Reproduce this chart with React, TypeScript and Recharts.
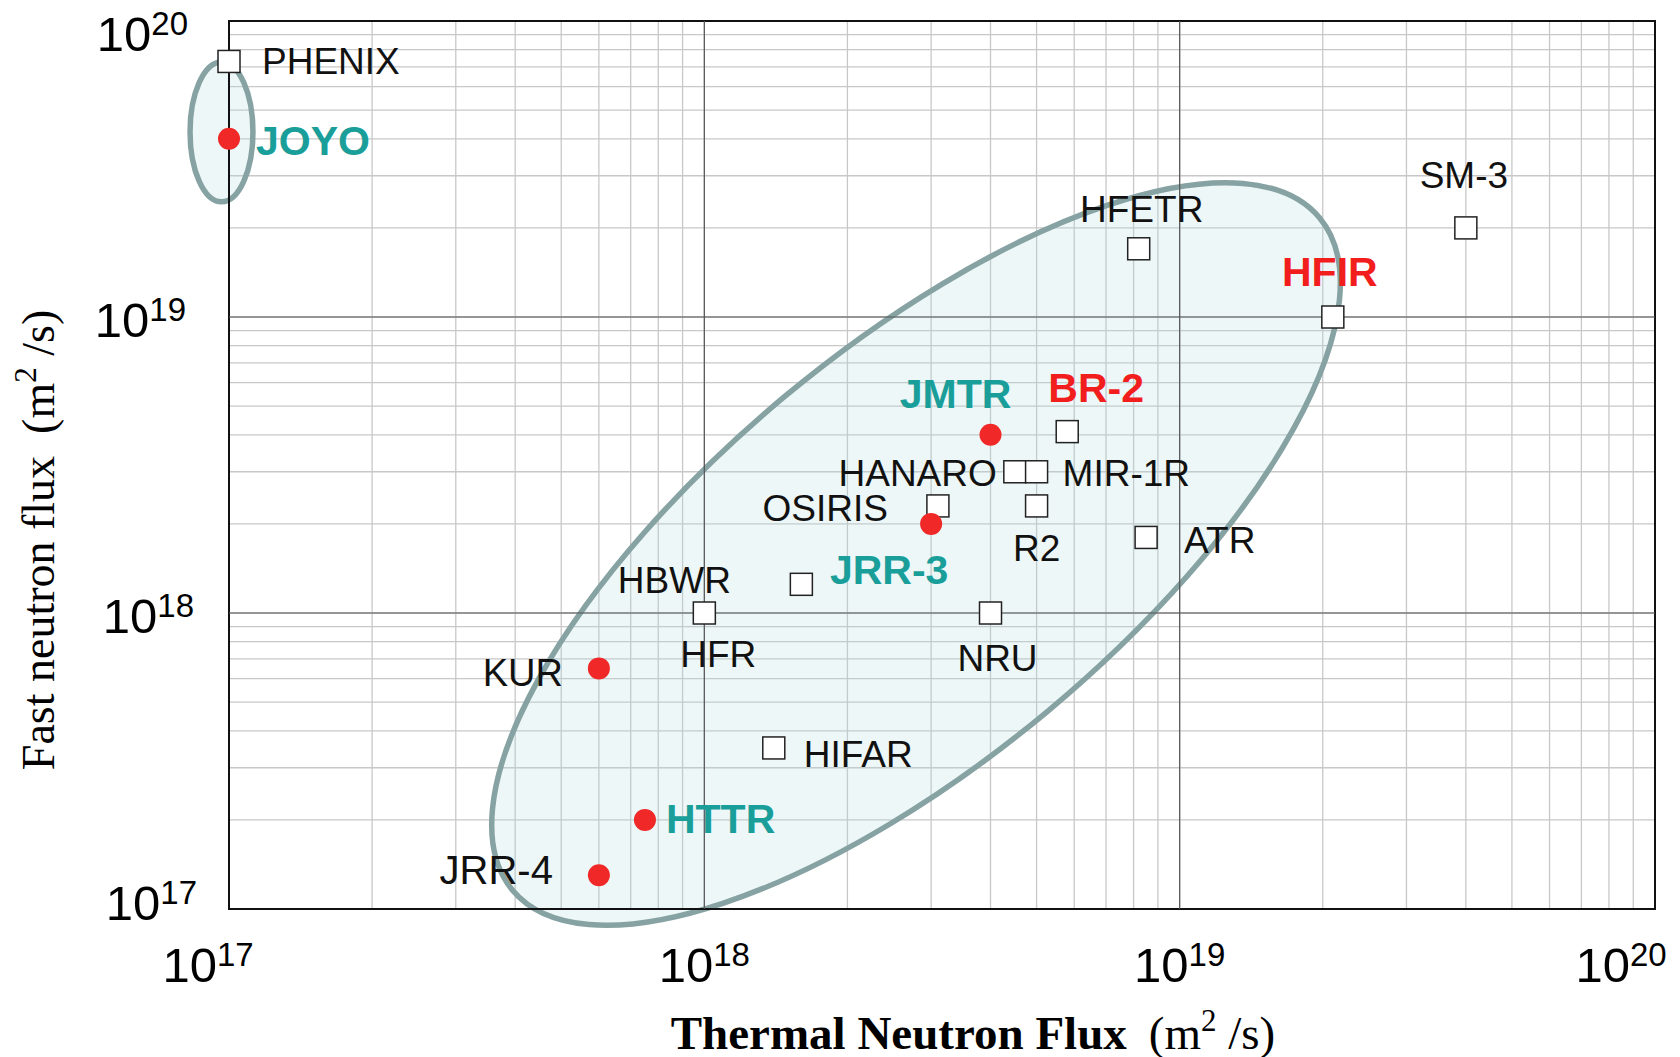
import { ScatterChart, Scatter, XAxis, YAxis, CartesianGrid, ReferenceLine, ReferenceArea, Label } from 'recharts'

// neutron flux, m^2/s
const decades = [17, 18, 19]
const mantissas = [1, 2, 3, 4, 5, 6, 7, 8, 9]
const majorTicks = [1e17, 1e18, 1e19, 1e20]
const allTicks = [...decades.flatMap((d) => mantissas.map((m) => m * 10 ** d)), 1e20]

// overseas test reactors (open squares)
const otherReactors = [
  { name: 'PHENIX', thermal: 1e17, fast: 7.3e19 },
  { name: 'HFETR', thermal: 8.2e18, fast: 1.7e19 },
  { name: 'SM-3', thermal: 4e19, fast: 2e19 },
  { name: 'HFIR', thermal: 2.1e19, fast: 1e19 },
  { name: 'BR-2', thermal: 5.8e18, fast: 4.1e18 },
  { name: 'HANARO', thermal: 4.5e18, fast: 3e18 },
  { name: 'MIR-1R', thermal: 5e18, fast: 3e18 },
  { name: 'OSIRIS', thermal: 3.1e18, fast: 2.3e18 },
  { name: 'R2', thermal: 5e18, fast: 2.3e18 },
  { name: 'ATR', thermal: 8.5e18, fast: 1.8e18 },
  { name: 'HBWR', thermal: 1.6e18, fast: 1.25e18 },
  { name: 'HFR', thermal: 1e18, fast: 1e18 },
  { name: 'NRU', thermal: 4e18, fast: 1e18 },
  { name: 'HIFAR', thermal: 1.4e18, fast: 3.5e17 },
]

// japanese reactors (red dots)
const japanReactors = [
  { name: 'JOYO', thermal: 1e17, fast: 4e19 },
  { name: 'JMTR', thermal: 4e18, fast: 4e18 },
  { name: 'JRR-3', thermal: 3e18, fast: 2e18 },
  { name: 'KUR', thermal: 6e17, fast: 6.5e17 },
  { name: 'HTTR', thermal: 7.5e17, fast: 2e17 },
  { name: 'JRR-4', thermal: 6e17, fast: 1.3e17 },
]

// shaded groups: extent of the (unrotated) ellipse in data units
const groups = [
  { x1: 2.19e17, x2: 3.55e19, y1: 3.21e17, y2: 7.8e18, angle: -39.8 },
  { x1: 8.28e16, x2: 1.123e17, y1: 2.45e19, y2: 7.27e19, angle: 0 },
]

const TEAL = '#1a9e9a'
const RED = '#f21d1d'
const INK = '#111111'

// label placement relative to marker (px)
const labelStyle: Record<string, any> = {
  PHENIX: { dx: 33, dy: 13, anchor: 'start', color: INK },
  HFETR: { dx: 3, dy: -27, anchor: 'middle', color: INK },
  'SM-3': { dx: -2, dy: -40, anchor: 'middle', color: INK },
  HFIR: { dx: -3, dy: -31, anchor: 'middle', color: RED, bold: true },
  'BR-2': { dx: 29, dy: -30, anchor: 'middle', color: RED, bold: true },
  HANARO: { dx: -18, dy: 14, anchor: 'end', color: INK },
  'MIR-1R': { dx: 26, dy: 14, anchor: 'start', color: INK },
  OSIRIS: { dx: -50, dy: 15, anchor: 'end', color: INK },
  R2: { dx: 0, dy: 55, anchor: 'middle', color: INK },
  ATR: { dx: 38, dy: 16, anchor: 'start', color: INK },
  HBWR: { dx: -127, dy: 9, anchor: 'middle', color: INK },
  HFR: { dx: 14, dy: 54, anchor: 'middle', color: INK },
  NRU: { dx: 7, dy: 58, anchor: 'middle', color: INK },
  HIFAR: { dx: 30, dy: 19, anchor: 'start', color: INK },
  JOYO: { dx: 27, dy: 16, anchor: 'start', color: TEAL, bold: true },
  JMTR: { dx: -35, dy: -27, anchor: 'middle', color: TEAL, bold: true },
  'JRR-3': { dx: -42, dy: 60, anchor: 'middle', color: TEAL, bold: true },
  KUR: { dx: -36, dy: 18, anchor: 'end', color: INK, size: 38 },
  HTTR: { dx: 21, dy: 13, anchor: 'start', color: TEAL, bold: true },
  'JRR-4': { dx: -46, dy: 9, anchor: 'end', color: INK, size: 40 },
}

const SANS = '"Liberation Sans", Arial, Helvetica, sans-serif'
const SERIF = '"Liberation Serif", "Times New Roman", serif'

const isMajor = (v: number) => majorTicks.some((t) => Math.abs(v - t) < t * 1e-6)

const XTick = ({ x, y, payload }: any) => {
  const v = payload.value
  if (!isMajor(v)) return <g />
  const exp = Math.round(Math.log10(v))
  const shift = exp === 17 ? -21 : exp === 20 ? -34 : 0
  return (
    <text x={x + shift} y={y + 73} textAnchor="middle" fontFamily={SANS} fill="#000">
      <tspan fontSize={49}>10</tspan>
      <tspan fontSize={33} dy={-16}>{exp}</tspan>
    </text>
  )
}

const yShift: Record<number, [number, number]> = { 17: [-32, 11], 18: [-35, 20], 19: [-43, 20], 20: [-41, 30] }

const YTick = ({ x, y, payload }: any) => {
  const v = payload.value
  if (!isMajor(v)) return <g />
  const exp = Math.round(Math.log10(v))
  const [sx, sy] = yShift[exp]
  return (
    <text x={x + sx} y={y + sy} textAnchor="end" fontFamily={SANS} fill="#000">
      <tspan fontSize={49}>10</tspan>
      <tspan fontSize={33} dy={-16}>{exp}</tspan>
    </text>
  )
}

const XTitle = ({ viewBox }: any) => (
  <text x={viewBox.x + viewBox.width / 2 + 31} y={viewBox.y + 140} textAnchor="middle" fontFamily={SERIF} fontSize={47} fill="#000">
    <tspan fontWeight="bold">Thermal Neutron Flux</tspan>
    <tspan dx={22}>(m</tspan>
    <tspan fontSize={31} dy={-18}>2</tspan>
    <tspan dy={18}> /s)</tspan>
  </text>
)

const YTitle = ({ viewBox }: any) => {
  const tx = viewBox.x - 25
  const ty = viewBox.y + viewBox.height / 2 + 75
  return (
    <text x={tx} y={ty} transform={`rotate(-90 ${tx} ${ty})`} textAnchor="middle" fontFamily={SERIF} fontSize={46} fill="#000">
      <tspan>Fast neutron flux</tspan>
      <tspan dx={22}>(m</tspan>
      <tspan fontSize={31} dy={-18}>2</tspan>
      <tspan dy={18}> /s)</tspan>
    </text>
  )
}

const SquareMark = ({ cx, cy }: any) => (
  <rect x={cx - 11} y={cy - 11} width={22} height={22} fill="#fff" stroke="#222" strokeWidth={1.5} />
)

const DotMark = ({ cx, cy }: any) => <circle cx={cx} cy={cy} r={11} fill="#f02828" />

const NameLabel = ({ cx, cy, payload }: any) => {
  const s = labelStyle[payload.name]
  return (
    <text
      x={cx + s.dx}
      y={cy + s.dy}
      textAnchor={s.anchor}
      fontFamily={SANS}
      fontSize={s.size ?? (s.bold ? 41 : 37)}
      fontWeight={s.bold ? 'bold' : 'normal'}
      fill={s.color}
    >
      {payload.name}
    </text>
  )
}

const ellipseShape = (angle: number) => ({ x, y, width, height }: any) => {
  const cx = x + width / 2
  const cy = y + height / 2
  return (
    <ellipse
      cx={cx}
      cy={cy}
      rx={Math.abs(width) / 2}
      ry={Math.abs(height) / 2}
      transform={`rotate(${angle} ${cx} ${cy})`}
      fill="#afdcdc"
      fillOpacity={0.22}
      stroke="#86a2a3"
      strokeWidth={5.5}
    />
  )
}

export default function App() {
  const allReactors = [...otherReactors, ...japanReactors]
  return (
    <div style={{ margin: '-8px 0 0 -8px', width: 1680, height: 1060 }}>
      <ScatterChart width={1680} height={1060} margin={{ top: 21, right: 25, left: 79, bottom: 51 }}>
        <CartesianGrid stroke="#c8c8c8" strokeWidth={1.3} />
        <XAxis
          type="number"
          dataKey="thermal"
          scale="log"
          domain={[1e17, 1e20]}
          ticks={allTicks}
          interval={0}
          tick={XTick}
          tickLine={false}
          tickSize={0}
          tickMargin={0}
          axisLine={false}
          height={100}
          label={<Label content={XTitle} />}
        />
        <YAxis
          type="number"
          dataKey="fast"
          scale="log"
          domain={[1e17, 1e20]}
          ticks={allTicks}
          interval={0}
          tick={YTick}
          tickLine={false}
          tickSize={0}
          tickMargin={0}
          axisLine={false}
          width={150}
          label={<Label content={YTitle} />}
        />
        {majorTicks.slice(1, 3).map((t) => (
          <ReferenceLine key={'vx' + t} x={t} stroke="#555" strokeWidth={1.2} />
        ))}
        {majorTicks.slice(1, 3).map((t) => (
          <ReferenceLine key={'hy' + t} y={t} stroke="#555" strokeWidth={1.2} />
        ))}
        <Scatter data={allReactors} shape={NameLabel} isAnimationActive={false} />
        {groups.map((g, i) => (
          <ReferenceArea
            key={'g' + i}
            x1={g.x1}
            x2={g.x2}
            y1={g.y1}
            y2={g.y2}
            ifOverflow="visible"
            shape={ellipseShape(g.angle)}
          />
        ))}
        <Scatter data={otherReactors} shape={SquareMark} isAnimationActive={false} />
        <Scatter data={japanReactors} shape={DotMark} isAnimationActive={false} />
        <ReferenceArea x1={1e17} x2={1e20} y1={1e17} y2={1e20} fill="none" fillOpacity={0} stroke="#111" strokeWidth={2} ifOverflow="visible" />
      </ScatterChart>
    </div>
  )
}
